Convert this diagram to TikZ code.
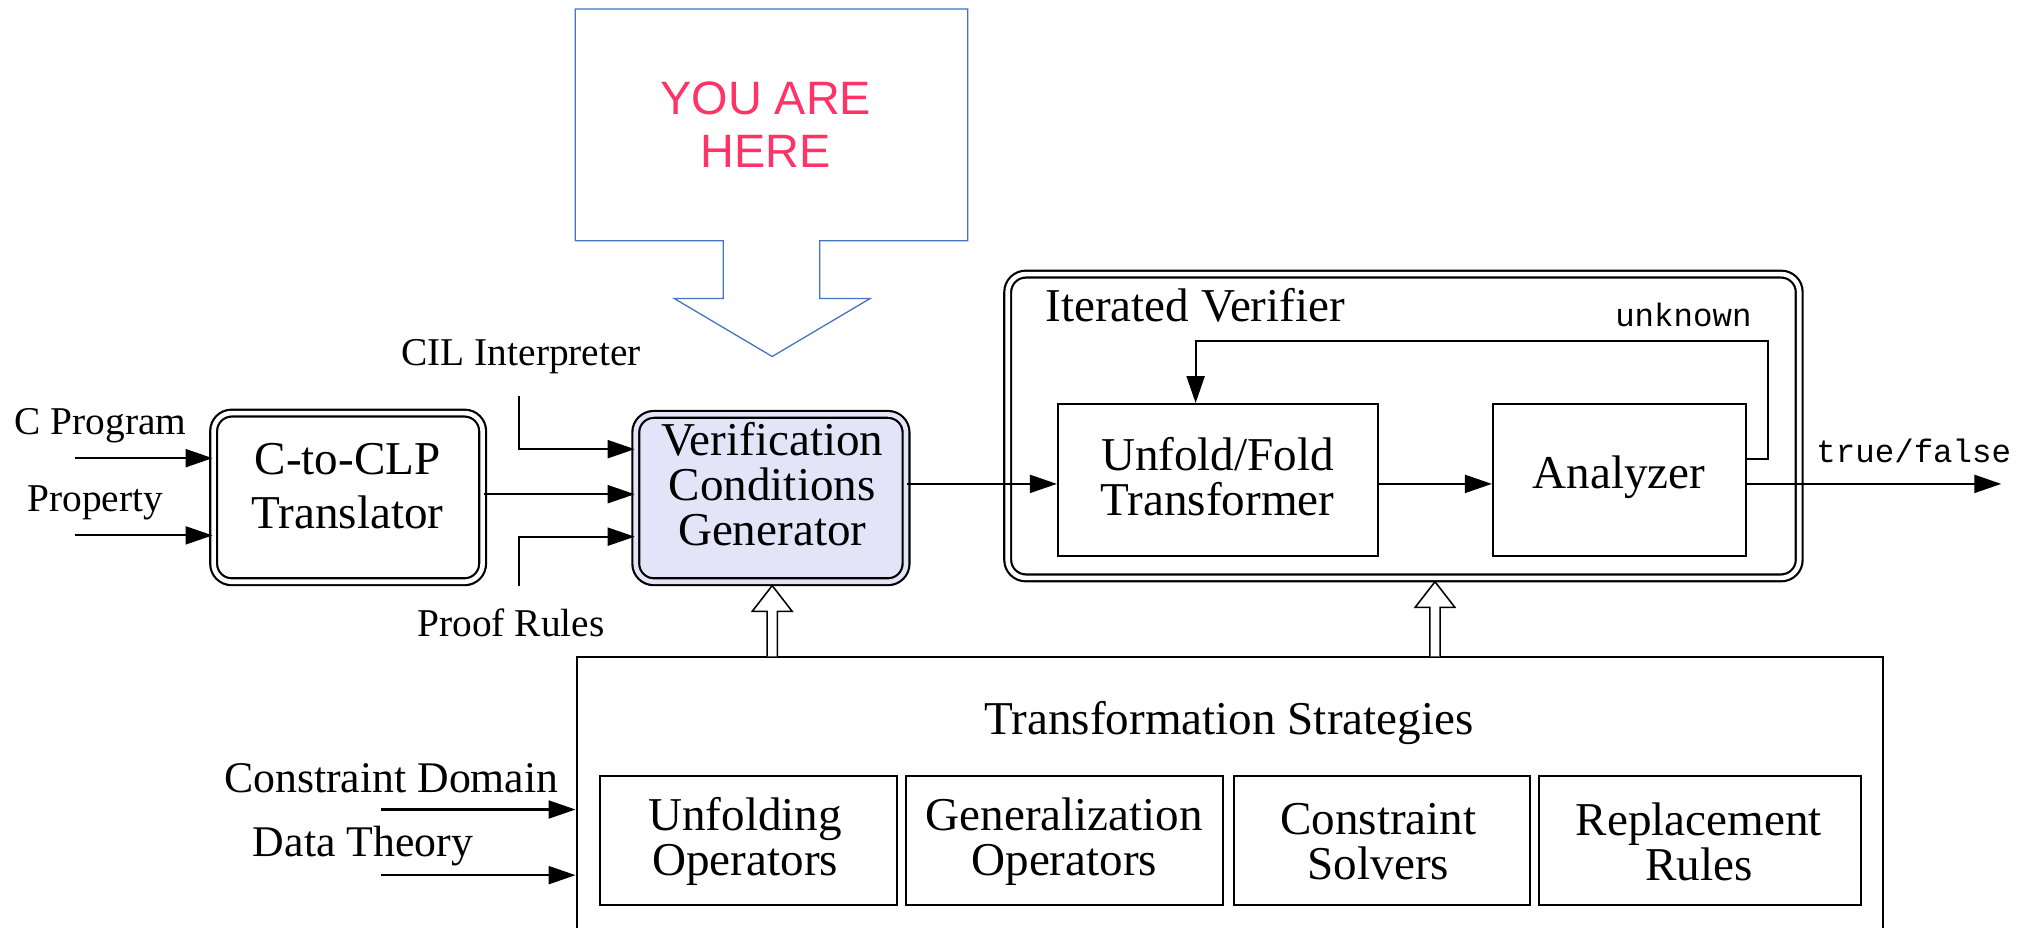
\documentclass[tikz,border=0pt]{standalone}
\usepackage{fontspec}
\setmainfont{Liberation Serif}
\setmonofont{Liberation Mono}
\newfontfamily\arialf{Liberation Sans}
\usetikzlibrary{arrows.meta,calc}
\definecolor{vcgfill}{RGB}{228,228,248}
\definecolor{calloutblue}{RGB}{68,114,196}
\definecolor{herepink}{RGB}{255,51,102}
\begin{document}
\begin{tikzpicture}[x=0.5pt,y=-0.5pt,
  big/.style={font=\fontsize{18.3}{17.5}\selectfont, align=center, inner sep=0pt},
  small/.style={font=\fontsize{15.3}{17}\selectfont, inner sep=0pt},
  mid/.style={font=\fontsize{17}{19}\selectfont, inner sep=0pt},
  tt/.style={font=\ttfamily\fontsize{12.6}{14}\selectfont, inner sep=0pt},
  dbox/.style={draw, line width=0.85pt, double, double distance=1.8pt, rounded corners=7pt, inner sep=0pt},
  sbox/.style={draw, line width=0.8pt, inner sep=0pt},
  arr/.style={line width=0.8pt, -{Triangle[length=10.5pt,width=7pt]}},
  hollow/.style={draw, line width=0.6pt, fill=white, line join=miter},
]
\useasboundingbox (0,0) rectangle (1568,721);

% callout
\draw[calloutblue, line width=0.5pt] (447,7) -- (752,7) -- (752,187) -- (637,187) -- (637,232) -- (676,232) -- (600,277) -- (524,232) -- (562,232) -- (562,187) -- (447,187) -- cycle;
\node[text=herepink, font=\arialf\fontsize{18.2}{20.4}\selectfont, align=center, inner sep=0pt] (here) at (595,97) {YOU ARE\\HERE};

% translator
\node[dbox, minimum width=104.5pt, minimum height=65.5pt] (t) at (270.5,386.5) {};
\node[big, font=\fontsize{18.3}{21}\selectfont] (tt) at (270,378) {C-to-CLP\\Translator};

% VCG
\node[dbox, double=vcgfill, fill=vcgfill, minimum width=105pt, minimum height=65pt] (v) at (599,387) {};
\node[big] (vt) at (600,376) {Verification\\Conditions\\Generator};

% iterated verifier
\node[dbox, minimum width=307.5pt, minimum height=118pt] (iv) at (1090.5,331) {};
\node[big, anchor=west] (ivt) at (812,237) {Iterated Verifier};
\node[tt] (unk) at (1308,245) {unknown};

\node[sbox, minimum width=124.5pt, minimum height=59pt] (u) at (946.5,373) {};
\node[big] (ut) at (946,370) {Unfold/Fold\\Transformer};
\node[sbox, minimum width=98.5pt, minimum height=59pt] (a) at (1258.5,373) {};
\node[big] (at) at (1258,371) {Analyzer};

% transformation strategies
\node[sbox, anchor=north, minimum width=507.5pt, minimum height=130pt] (ts) at (955.5,510) {};
\node[big] (tst) at (955,562) {Transformation Strategies};
\node[sbox, minimum width=115.5pt, minimum height=50pt] (b1) at (581.5,653) {};
\node[sbox, minimum width=123pt, minimum height=50pt] (b2) at (827,653) {};
\node[sbox, minimum width=115pt, minimum height=50pt] (b3) at (1074,653) {};
\node[sbox, minimum width=125pt, minimum height=50pt] (b4) at (1321,653) {};
\node[big] (b1t) at (579,654) {Unfolding\\Operators};
\node[big] (b2t) at (827,654) {Generalization\\Operators};
\node[big] (b3t) at (1071,654) {Constraint\\Solvers};
\node[big] (b4t) at (1320,654) {Replacement\\Rules};

% labels
\node[small] (cpl) at (78,331) {C Program};
\node[small] (prl) at (74,391) {Property};
\node[small] (cil) at (405,277) {CIL Interpreter};
\node[small] (pfr) at (397,484) {Proof Rules};
\node[mid] (cdl) at (304,605) {Constraint Domain};
\node[mid] (dtl) at (282,657) {Data Theory};
\node[tt, anchor=west] (tf) at (1411,350) {true/false};

% coordinates
\coordinate (cpin) at (58,356);
\coordinate (prin) at (58,416);
\coordinate (tv) at (378,384);
\coordinate (cil1) at (403,308);
\coordinate (cil2) at (403,349);
\coordinate (pf1) at (403,455);
\coordinate (pf2) at (403,417);
\coordinate (vu) at (707,376);
\coordinate (fb1) at (1374,357);
\coordinate (fb2) at (1374,265);
\coordinate (fb3) at (929,265);
\coordinate (out) at (1555,376);
\coordinate (cdin) at (296,629);
\coordinate (dtin) at (296,680);

% connectors
\draw[arr] (cpin) -- (cpin -| t.west);
\draw[arr] (prin) -- (prin -| t.west);
\draw[arr] (t.east |- tv) -- (tv -| v.west);
\draw[arr] (cil1) -- (cil2) -- (cil2 -| v.west);
\draw[arr] (pf1) -- (pf2) -- (pf2 -| v.west);
\draw[arr] (v.east |- vu) -- (vu -| u.west);
\draw[arr] (u.east |- vu) -- (vu -| a.west);
\draw[arr] (a.east |- fb1) -- (fb1) -- (fb2) -- (fb3) -- (fb3 |- u.north);
\draw[arr] (a.east |- out) -- (out);
\draw[arr] (cdin) -- (cdin -| ts.west);
\draw[arr] (dtin) -- (dtin -| ts.west);

% hollow arrows
\draw[hollow] (596,510) -- (596,475) -- (584.5,475) -- (600,455) -- (615.5,475) -- (604,475) -- (604,510);
\draw[hollow] (1111,510) -- (1111,472) -- (1099.5,472) -- (1115,452) -- (1130.5,472) -- (1119,472) -- (1119,510);
\end{tikzpicture}
\end{document}
